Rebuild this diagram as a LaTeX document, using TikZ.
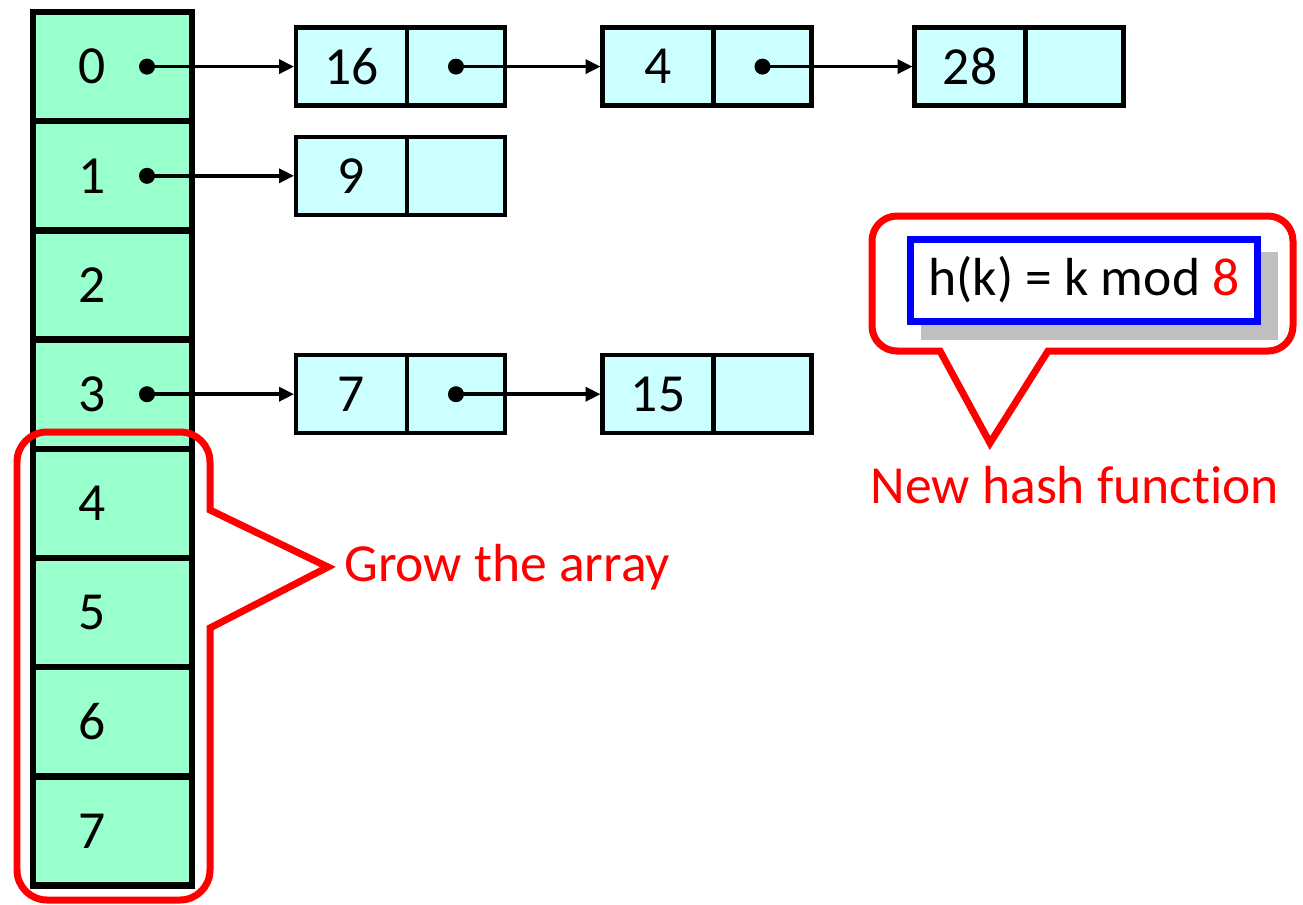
\documentclass[tikz,border=0pt]{standalone}
\usepackage{fontspec}
\setmainfont{Carlito}[RawFeature=-liga]
\usetikzlibrary{positioning,arrows.meta}
\definecolor{tabla}{HTML}{99FFCC}
\definecolor{nodo}{HTML}{CCFFFF}
\definecolor{aviso}{HTML}{FF0000}
\definecolor{marco}{HTML}{0000FF}
\definecolor{sombra}{HTML}{BFBFBF}

\begin{document}
\begin{tikzpicture}[x=0.02cm,y=-0.02cm,
   celda/.style={draw=black,fill=tabla,line width=0.13cm,minimum width=3.18cm,minimum height=2.184cm,inner sep=0pt,outer sep=0pt},
   indice/.style={font=\fontsize{30.5}{36}\selectfont},
   clave/.style={draw=black,fill=nodo,line width=0.09cm,minimum width=2.22cm,minimum height=1.56cm,inner sep=0pt,outer sep=0pt,font=\fontsize{30.5}{36}\selectfont},
   enlace/.style={clave,minimum width=1.96cm},
   punto/.style={circle,fill=black,minimum size=0.32cm,inner sep=0pt},
   flecha/.style={line width=0.07cm,shorten >=0.04cm,-{Triangle[length=0.3cm,width=0.28cm]}},
   globo/.style={draw=aviso,line width=0.14cm},
   nota/.style={text=aviso,font=\fontsize{30.5}{36}\selectfont}]

  \useasboundingbox (0,0) rectangle (1303,904);

  % tabla de 8 celdas
  \foreach \i in {0,...,7} {
    \node[celda] (c\i) at (112.5,{66.6+109.2*\i}) {};
    \node[indice] (n\i) at ([xshift=-0.4cm]c\i.center) {\i};
  }
  \foreach \i in {0,1,3}
    \node[punto] (p\i) at ([xshift=0.69cm]c\i.center) {};

  % --- lista de la celda 0 ---
  \node[clave] (k16) at (351.5,66.6) {16};
  \node[enlace,right=0pt of k16] (e16) {};
  \node[clave] (k4) at (658,66.6) {4};
  \node[enlace,right=0pt of k4] (e4) {};
  \node[clave] (k28) at (970,66.6) {28};
  \node[enlace,right=0pt of k28] (e28) {};
  \node[punto] (q16) at (e16.center) {};
  \node[punto] (q4) at (e4.center) {};

  % --- lista de la celda 1 ---
  \node[clave] (k9) at (351.5,175.8) {9};
  \node[enlace,right=0pt of k9] (e9) {};

  % --- lista de la celda 3 ---
  \node[clave] (k7) at (351.5,394.2) {7};
  \node[enlace,right=0pt of k7] (e7) {};
  \node[clave] (k15) at (658,394.2) {15};
  \node[enlace,right=0pt of k15] (e15) {};
  \node[punto] (q7) at (e7.center) {};

  % punteros
  \draw[flecha] (p0.center) -- (k16.west);
  \draw[flecha] (q16.center) -- (k4.west);
  \draw[flecha] (q4.center) -- (k28.west);
  \draw[flecha] (p1.center) -- (k9.west);
  \draw[flecha] (p3.center) -- (k7.west);
  \draw[flecha] (q7.center) -- (k15.west);

  % --- globo: crecer la tabla ---
  \draw[globo] (210,510) [rounded corners=0.6cm] -- (210,432) -- (17,432) -- (17,900) -- (210,900)
    [sharp corners] -- (210,628) -- (328,567) -- cycle;
  \node[nota,anchor=west] (crecer) at (338,567) {Grow the array};

  % --- globo: nueva funcion hash ---
  \draw[globo] (940,351) [rounded corners=0.5cm] -- (872,351) -- (872,216) -- (1293,216) -- (1293,351)
    [sharp corners] -- (1048,351) -- (990,443) -- cycle;
  \fill[sombra] (921,252) rectangle (1278,340);
  \node[draw=marco,fill=white,line width=0.14cm,minimum width=6.96cm,minimum height=1.64cm,
    font=\fontsize{30.5}{36}\selectfont] (hash) at (1084,280) {h(k) = k mod \textcolor{aviso}{8}};
  \node[nota] (nueva) at (1075,485) {New hash function};
\end{tikzpicture}
\end{document}
